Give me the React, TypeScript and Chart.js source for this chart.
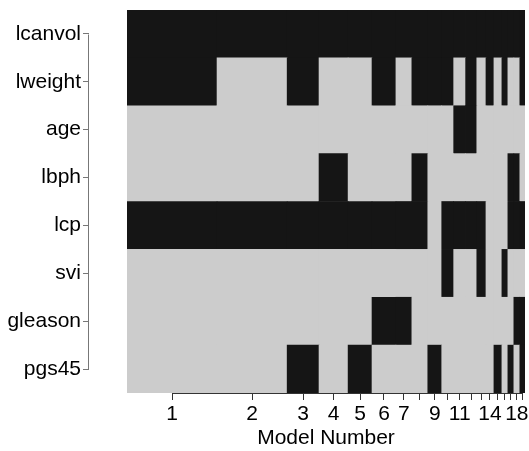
import React, { useEffect, useRef } from 'react';
import { Chart, registerables } from 'chart.js';

Chart.register(...registerables);

// Variables (rows, top to bottom)
const variables = ['lcanvol', 'lweight', 'age', 'lbph', 'lcp', 'svi', 'gleason', 'pgs45'];

// Models (columns) and their posterior probabilities (column widths)
const modelNumbers = [1, 2, 3, 4, 5, 6, 7, 8, 9, 10, 11, 12, 13, 14, 15, 16, 17, 18, 19];
const postProb = [0.226, 0.176, 0.080, 0.073, 0.060, 0.060, 0.040, 0.040, 0.035, 0.030,
  0.030, 0.028, 0.023, 0.020, 0.020, 0.015, 0.015, 0.015, 0.013];

// Inclusion of each variable in each model (1 = included)
const lcanvol = [1, 1, 1, 1, 1, 1, 1, 1, 1, 1, 1, 1, 1, 1, 1, 1, 1, 1, 1];
const lweight = [1, 0, 1, 0, 0, 1, 0, 1, 1, 1, 0, 1, 0, 1, 0, 1, 0, 0, 1];
const age = [0, 0, 0, 0, 0, 0, 0, 0, 0, 0, 1, 1, 0, 0, 0, 0, 0, 0, 0];
const lbph = [0, 0, 0, 1, 0, 0, 0, 1, 0, 0, 0, 0, 0, 0, 0, 0, 1, 1, 0];
const lcp = [1, 1, 1, 1, 1, 1, 1, 1, 0, 1, 1, 1, 1, 0, 0, 0, 1, 1, 1];
const svi = [0, 0, 0, 0, 0, 0, 0, 0, 0, 1, 0, 0, 1, 0, 0, 1, 0, 0, 0];
const gleason = [0, 0, 0, 0, 0, 1, 1, 0, 0, 0, 0, 0, 0, 0, 0, 0, 0, 1, 1];
const pgs45 = [0, 0, 1, 0, 1, 0, 0, 0, 1, 0, 0, 0, 0, 0, 1, 0, 1, 0, 1];

// Model numbers whose tick labels are printed
const labelledModels = [1, 2, 3, 4, 5, 6, 7, 9, 11, 14, 18];

const INCLUDED = '#151515';
const EXCLUDED = '#cccccc';
const FONT = "'Liberation Sans', Arial, Helvetica, sans-serif";

export default function App() {
  const ref = useRef<HTMLCanvasElement | null>(null);

  useEffect(() => {
    if (!ref.current) return;
    const rows = [lcanvol, lweight, age, lbph, lcp, svi, gleason, pgs45];
    const starts: number[] = [];
    let acc = 0;
    postProb.forEach((p) => { starts.push(acc); acc += p; });
    const total = acc;
    const centers = postProb.map((p, i) => starts[i] + p / 2);

    const cells: any[] = [];
    const colors: string[] = [];
    rows.forEach((row, r) => {
      row.forEach((inc, m) => {
        cells.push({ y: variables[r], x: [starts[m], starts[m] + postProb[m]] });
        colors.push(inc ? INCLUDED : EXCLUDED);
      });
    });

    // axis lines running from the first to the last tick (R style)
    const axisLines = {
      id: 'axisLines',
      afterDraw(chart: any) {
        const { ctx, chartArea, scales } = chart;
        const xs = scales.x, ys = scales.y;
        ctx.save();
        ctx.lineWidth = 1;
        ctx.strokeStyle = '#333333';
        ctx.beginPath();
        const yb = Math.round(chartArea.bottom) + 0.5;
        ctx.moveTo(Math.round(xs.getPixelForTick(0)) + 0.5, yb);
        ctx.lineTo(Math.round(xs.getPixelForTick(xs.ticks.length - 1)) + 0.5, yb);
        ctx.stroke();
        ctx.strokeStyle = '#777777';
        ctx.beginPath();
        const xl = Math.round(ys.right) - 0.5;
        ctx.moveTo(xl, Math.round(ys.getPixelForTick(0)) + 0.5);
        ctx.lineTo(xl, Math.round(ys.getPixelForTick(ys.ticks.length - 1)) + 0.5);
        ctx.stroke();
        ctx.restore();
      },
    };

    const chart = new Chart(ref.current, {
      type: 'bar',
      data: {
        labels: variables,
        datasets: [{
          data: cells,
          backgroundColor: colors,
          borderWidth: 0,
          barPercentage: 1,
          categoryPercentage: 1,
          xAxisID: 'x',
          yAxisID: 'y',
        }],
      },
      options: {
        indexAxis: 'y',
        animation: false,
        responsive: false,
        devicePixelRatio: 1,
        layout: { padding: { top: 10, right: 4, left: 0, bottom: 0 } },
        plugins: { legend: { display: false }, tooltip: { enabled: false } },
        scales: {
          x: {
            type: 'linear',
            min: 0,
            max: total,
            position: 'bottom',
            border: { display: false },
            grid: { drawOnChartArea: false, drawTicks: true, tickLength: 7, color: '#333333' },
            afterBuildTicks: (scale: any) => { scale.ticks = centers.map((v) => ({ value: v })); },
            afterFit: (scale: any) => {
              scale.height = 58;
              scale.paddingLeft = 0;
              scale.paddingRight = 0;
            },
            ticks: {
              autoSkip: false,
              maxRotation: 0,
              minRotation: 0,
              padding: 2,
              color: '#000000',
              font: { family: FONT, size: 21 },
              callback: (_v: any, i: number) =>
                labelledModels.includes(modelNumbers[i]) ? String(modelNumbers[i]) : '',
            },
            title: {
              display: true,
              text: 'Model Number',
              color: '#000000',
              font: { family: FONT, size: 21 },
              padding: { top: 0, bottom: 0 },
            },
          },
          // empty spacer between the y axis and the image
          ySpacer: {
            type: 'linear',
            position: 'left',
            weight: 0,
            display: true,
            border: { display: false },
            grid: { display: false },
            ticks: { display: false },
            afterFit: (scale: any) => {
              scale.width = 38;
              scale.paddingTop = 0;
              scale.paddingBottom = 0;
            },
          },
          y: {
            type: 'category',
            labels: variables,
            position: 'left',
            weight: 1,
            offset: true,
            border: { display: false },
            grid: { drawOnChartArea: false, drawTicks: true, tickLength: 6, color: '#777777', offset: false },
            afterFit: (scale: any) => {
              scale.width = 89;
              scale.paddingTop = 0;
              scale.paddingBottom = 0;
            },
            ticks: {
              padding: 2,
              color: '#000000',
              font: { family: FONT, size: 21 },
            },
          },
        },
      },
      plugins: [axisLines],
    } as any);

    return () => chart.destroy();
  }, []);

  return (
    <div style={{ position: 'absolute', left: 0, top: 0, width: 529, height: 451, background: '#ffffff' }}>
      <canvas ref={ref} width={529} height={451} style={{ display: 'block' }} />
    </div>
  );
}
